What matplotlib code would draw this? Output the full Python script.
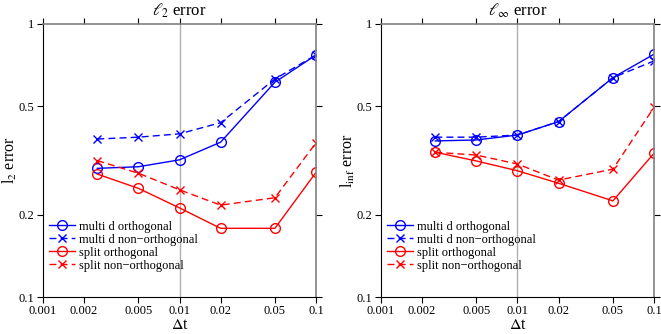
import matplotlib
matplotlib.use("Agg")
import matplotlib.pyplot as plt

plt.rcParams.update({
    "font.family": "Liberation Serif",
    "mathtext.fontset": "stix",
    "font.size": 9,
})

dt = [0.0025, 0.005, 0.01, 0.02, 0.05, 0.1]

# l2 error
l2_multi_orth = [0.296, 0.300, 0.318, 0.369, 0.612, 0.770]
l2_multi_nonorth = [0.379, 0.385, 0.396, 0.435, 0.629, 0.770]
l2_split_orth = [0.282, 0.250, 0.212, 0.1785, 0.1785, 0.286]
l2_split_nonorth = [0.316, 0.284, 0.247, 0.217, 0.231, 0.367]

# linf error
linf_multi_orth = [0.373, 0.376, 0.392, 0.439, 0.636, 0.775]
linf_multi_nonorth = [0.385, 0.385, 0.392, 0.439, 0.636, 0.732]
linf_split_orth = [0.339, 0.315, 0.290, 0.261, 0.225, 0.336]
linf_split_nonorth = [0.339, 0.331, 0.307, 0.268, 0.294, 0.495]

labels = ["multi d orthogonal", "multi d non\u2212orthogonal",
          "split orthogonal", "split non\u2212orthogonal"]
titles = [r"$\ell_2$ error", r"$\ell_\infty$ error"]
ylabels = [r"l$_2$ error", r"l$_{\rm inf}$ error"]
xticks = [0.001, 0.002, 0.005, 0.01, 0.02, 0.05, 0.1]
xticklabels = ["0.001", "0.002", "0.005", "0.01", "0.02", "0.05", "0.1"]
yticks = [0.1, 0.2, 0.5, 1]
yticklabels = ["0.1", "0.2", "0.5", "1"]

panels = [
    [l2_multi_orth, l2_multi_nonorth, l2_split_orth, l2_split_nonorth],
    [linf_multi_orth, linf_multi_nonorth, linf_split_orth, linf_split_nonorth],
]
styles = [("b", "-", "o"), ("b", "--", "x"), ("r", "-", "o"), ("r", "--", "x")]

fig = plt.figure(figsize=(6.61, 3.34), dpi=100)
lefts = [43 / 661, 381 / 661]
grey = "#808080"

for k in range(2):
    ax = fig.add_axes([lefts[k], 37 / 334, 273 / 661, 273 / 334])
    ax.axvline(0.01, color="#b0b0b0", lw=1.0, zorder=0)
    for series, lab, (c, ls, m) in zip(panels[k], labels, styles):
        ax.plot(dt, series, color=c, ls=ls, marker=m, mfc="none", mec=c,
                ms=7 if m == "o" else 6, lw=1.0, mew=1.0, label=lab,
                dashes=(5, 3) if ls == "--" else (None, None))
    ax.set_xscale("log")
    ax.set_yscale("log")
    ax.set_xlim(0.001, 0.1)
    ax.set_ylim(0.1, 1)
    ax.set_xticks(xticks)
    ax.set_xticklabels(xticklabels)
    ax.set_yticks(yticks)
    ax.set_yticklabels(yticklabels)
    ax.minorticks_off()
    ax.tick_params(direction="out", length=4, width=0.8, labelsize=9, pad=2,
                   top=True, right=True)
    for s in ["top", "right"]:
        ax.spines[s].set_color(grey)
        ax.spines[s].set_linewidth(1.2)
    for s in ["left", "bottom"]:
        ax.spines[s].set_linewidth(0.8)
    for t in ax.xaxis.get_ticklines()[1::2]:
        t.set_color(grey)
    for t in ax.yaxis.get_ticklines()[1::2]:
        t.set_color(grey)
    ax.set_title(titles[k], fontsize=12, pad=6)
    ax.set_xlabel(r"$\Delta$t", fontsize=11.5, labelpad=0)
    ax.set_ylabel(ylabels[k], fontsize=11.5, labelpad=0)
    ax.legend(loc="lower left", bbox_to_anchor=(-0.005, 0.065), frameon=False,
              fontsize=9, handlelength=2.1, handletextpad=0.3,
              labelspacing=0.08, borderaxespad=0.2)

fig.savefig("out.png")
